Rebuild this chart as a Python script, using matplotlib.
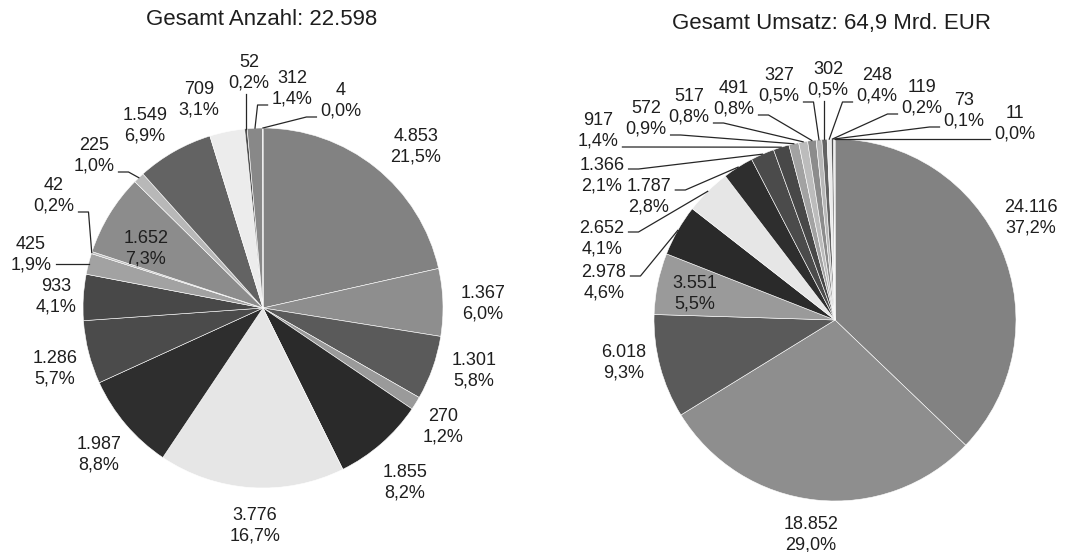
import numpy as np
import matplotlib.pyplot as plt

plt.rcParams['font.family'] = ['Liberation Sans', 'DejaVu Sans']

W, H = 1069, 552

# data, clockwise from 12 o'clock
anzahl_title = 'Gesamt Anzahl: 22.598'
anzahl_values = [4853, 1367, 1301, 270, 1855, 3776, 1987, 1286, 933,
                 425, 42, 1652, 225, 1549, 709, 52, 312, 4]

umsatz_title = 'Gesamt Umsatz: 64,9 Mrd. EUR'
umsatz_values = [24116, 18852, 6018, 3551, 2978, 2652, 1787, 1366, 917,
                 572, 517, 491, 327, 302, 248, 119, 73, 11]

# styles / layout
grays = ['#828282', '#8e8e8e', '#5a5a5a', '#9a9a9a', '#2a2a2a', '#e6e6e6',
         '#2e2e2e', '#4b4b4b', '#484848', '#a2a2a2', '#bcbcbc', '#8c8c8c',
         '#b8b8b8', '#636363', '#ececec', '#4f4f4f', '#888888', '#9c9c9c']
text_color = '#1e1e1e'

# pie centre / radius in pixels (y from top)
anzahl_pie = (263, 308, 180)
umsatz_pie = (835, 320, 181)

# label centres in pixels (x from left, y from top)
anzahl_label_xy = [(416, 147), (483, 304), (474, 371), (443, 427), (405, 483),
                   (255, 526), (99, 455), (55, 369), (56, 297), (31, 255),
                   (54, 196), (146, 249), (94, 156), (145, 126), (199, 100),
                   (249, 73), (292, 89), (341, 101)]
anzahl_leader = [0, 0, 0, 0, 0, 0, 0, 0, 0, 1, 1, 0, 1, 0, 0, 1, 1, 1]

umsatz_label_xy = [(1031, 218), (811, 535), (624, 363), (695, 294), (604, 283),
                   (602, 239), (649, 197), (602, 176), (598, 131), (646, 119),
                   (689, 107), (734, 99), (779, 86), (828, 80), (877, 86),
                   (922, 98), (964, 111), (1015, 124)]
umsatz_leader = [0, 0, 0, 0, 1, 1, 1, 1, 1, 1, 1, 1, 1, 1, 1, 1, 1, 1]


def de_int(v):
    return f'{v:,}'.replace(',', '.')


def de_pct(p):
    return f'{p:.1f}'.replace('.', ',') + '%'


def draw_pie(ax, values, pie, label_xy, leader, title, title_xy, renderer):
    cx, cy, r = pie
    wedges, _ = ax.pie(values, colors=grays, startangle=90, counterclock=False,
                       center=(cx, H - cy), radius=r,
                       wedgeprops=dict(edgecolor='white', linewidth=0.4))
    total = sum(values)
    texts = []
    for v, (lx, ly) in zip(values, label_xy):
        t = ax.text(lx, H - ly, de_int(v) + '\n' + de_pct(100 * v / total),
                    ha='center', va='center', fontsize=13, linespacing=1.25,
                    color=text_color)
        texts.append(t)
    ax.text(title_xy[0], H - title_xy[1], title, ha='center', va='center',
            fontsize=16, color=text_color)
    return wedges, texts


def draw_leaders(ax, wedges, texts, leader, renderer):
    for w, t, has in zip(wedges, texts, leader):
        if not has:
            continue
        ang = np.deg2rad((w.theta1 + w.theta2) / 2)
        px = w.center[0] + w.r * np.cos(ang)
        py = w.center[1] + w.r * np.sin(ang)
        bb = t.get_window_extent(renderer)
        ymid = (bb.y0 + bb.y1) / 2
        if bb.x0 < px < bb.x1:
            ax.plot([px, px], [bb.y0 - 2, py], color='#262626', lw=0.9)
            continue
        ly = np.clip(py, ymid - 16, ymid + 7)
        if px > bb.x1:
            x0 = bb.x1 + 4
            x1 = x0 + 10
        else:
            x0 = bb.x0 - 4
            x1 = x0 - 10
        ax.plot([x0, x1, px], [ly, ly, py], color='#262626', lw=0.9)


fig = plt.figure(figsize=(W / 100, H / 100), dpi=100)
ax = fig.add_axes([0, 0, 1, 1])
renderer = fig.canvas.get_renderer()

w1, t1 = draw_pie(ax, anzahl_values, anzahl_pie, anzahl_label_xy, anzahl_leader,
                  anzahl_title, (262, 19.5), renderer)
w2, t2 = draw_pie(ax, umsatz_values, umsatz_pie, umsatz_label_xy, umsatz_leader,
                  umsatz_title, (831, 23.6), renderer)

ax.set_xlim(0, W)
ax.set_ylim(0, H)
ax.set_aspect('auto')
ax.axis('off')

draw_leaders(ax, w1, t1, anzahl_leader, renderer)
draw_leaders(ax, w2, t2, umsatz_leader, renderer)

fig.savefig('out.png', dpi=100, facecolor='white')
